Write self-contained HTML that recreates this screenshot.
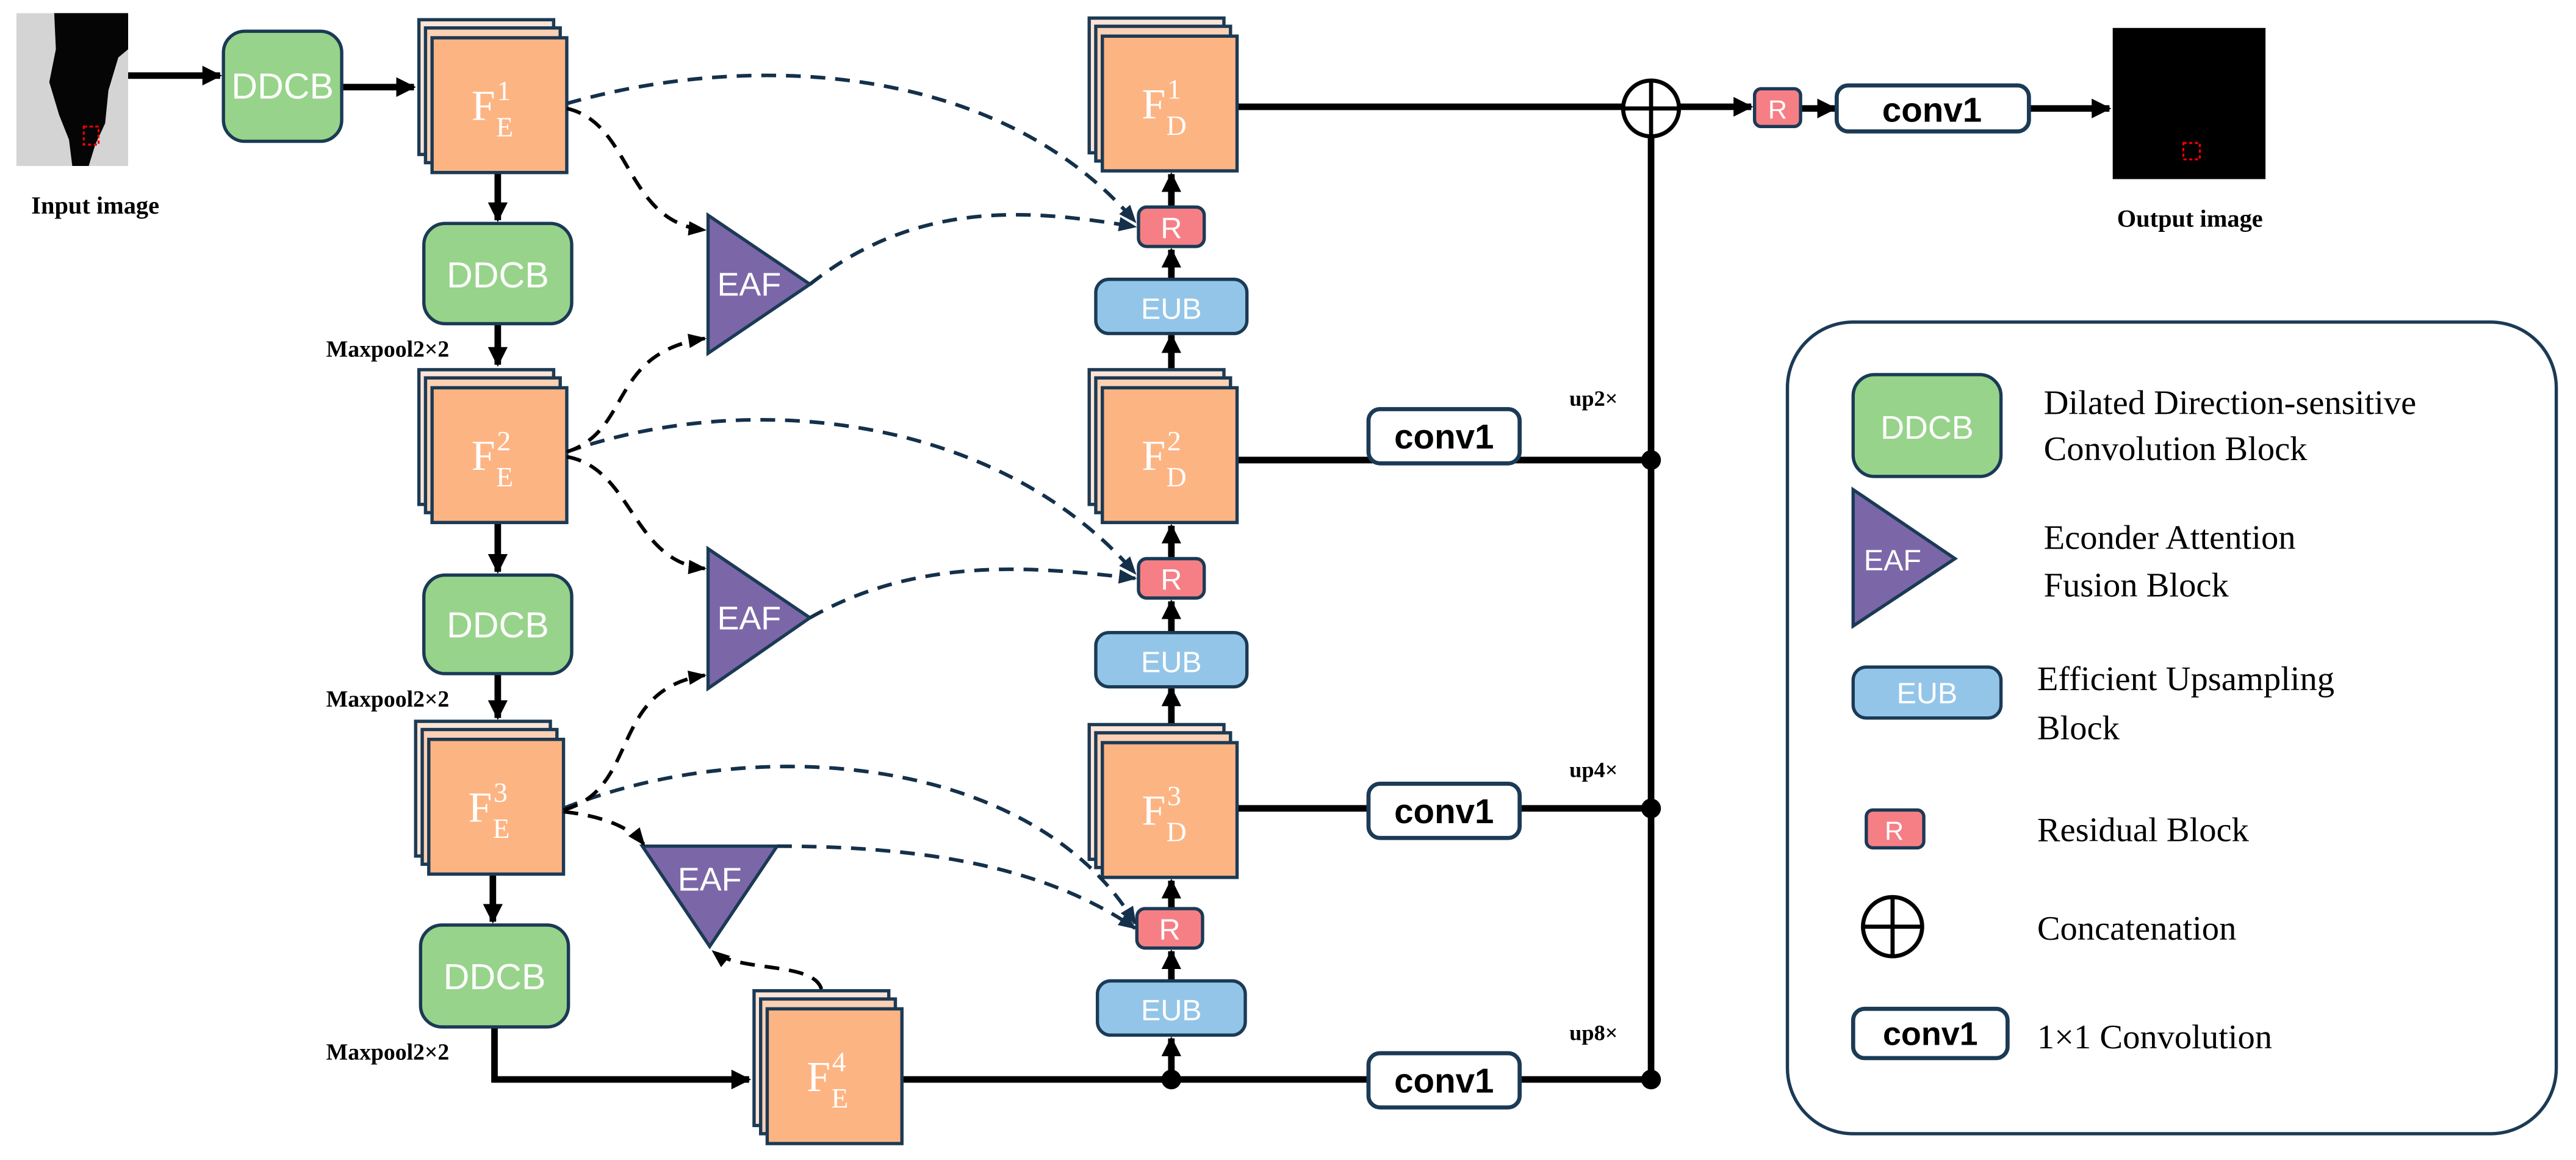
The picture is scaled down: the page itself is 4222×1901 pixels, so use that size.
<!DOCTYPE html>
<html><head><meta charset="utf-8"><style>
html,body{margin:0;padding:0;background:#fff;}
svg{display:block;}
.lbl{font-family:"Liberation Sans",sans-serif;fill:#fff;text-anchor:middle;}
.ser{font-family:"Liberation Serif",serif;}
.fe{font-family:"Liberation Serif",serif;fill:#fff;}
.blk{font-family:"Liberation Sans",sans-serif;font-weight:bold;fill:#000;text-anchor:middle;}
.leg{font-family:"Liberation Serif",serif;font-size:21px;fill:#000;}
</style></head><body>
<svg width="4222" height="1901" viewBox="0 0 1568 706" xmlns="http://www.w3.org/2000/svg">
<defs>
<marker id="a" viewBox="0 0 10 10" refX="9" refY="5" markerWidth="3" markerHeight="3" orient="auto"><path d="M0,0L10,5L0,10z" fill="#000"/></marker>
<marker id="d" viewBox="0 0 10 10" refX="9" refY="5" markerWidth="5" markerHeight="5" orient="auto"><path d="M0,1L10,5L0,9z" fill="#000"/></marker>
<marker id="db" viewBox="0 0 10 10" refX="9" refY="5" markerWidth="5" markerHeight="5" orient="auto"><path d="M0,1L10,5L0,9z" fill="#14304a"/></marker>
<g id="stk">
<rect x="-8" y="-11" width="82" height="82" fill="#fde4d6" stroke="#1b3a55" stroke-width="2"/>
<rect x="-4" y="-6" width="82" height="82" fill="#fcd0b3" stroke="#1b3a55" stroke-width="2"/>
<rect x="0" y="0" width="82" height="82" fill="#fdb483" stroke="#1b3a55" stroke-width="2"/>
</g>
</defs>

<!-- input image -->
<rect x="10" y="8" width="68" height="93" fill="#d4d4d4"/>
<path d="M33,8 L78,8 L78,30 L72,35 L66,55 L64,75 L58,88 L54,101 L44,101 L42,85 L36,70 L30,50 L34,30z" fill="#050505"/>
<rect x="51" y="77" width="9" height="11" fill="none" stroke="#e00" stroke-width="1.2" stroke-dasharray="2,1.5"/>
<text x="58" y="130" class="ser" font-size="15" font-weight="bold" text-anchor="middle">Input image</text>

<!-- main solid lines -->
<g stroke="#000" stroke-width="4" fill="none">
<line x1="78" y1="46" x2="134" y2="46" marker-end="url(#a)"/>
<line x1="208" y1="53" x2="252" y2="53" marker-end="url(#a)"/>
<line x1="303" y1="105" x2="303" y2="134" marker-end="url(#a)"/>
<line x1="303" y1="197" x2="303" y2="222" marker-end="url(#a)"/>
<line x1="303" y1="318" x2="303" y2="348" marker-end="url(#a)"/>
<line x1="303" y1="410" x2="303" y2="437" marker-end="url(#a)"/>
<line x1="300" y1="532" x2="300" y2="561" marker-end="url(#a)"/>
<polyline points="301,625 301,657 456,657" marker-end="url(#a)"/>
<line x1="549" y1="657" x2="1005" y2="657"/>
<line x1="713" y1="657" x2="713" y2="632" marker-end="url(#a)"/>
<line x1="713" y1="597" x2="713" y2="579" marker-end="url(#a)"/>
<line x1="713" y1="553" x2="713" y2="536" marker-end="url(#a)"/>
<line x1="713" y1="441" x2="713" y2="419" marker-end="url(#a)"/>
<line x1="713" y1="385" x2="713" y2="366" marker-end="url(#a)"/>
<line x1="713" y1="340" x2="713" y2="320" marker-end="url(#a)"/>
<line x1="713" y1="225" x2="713" y2="204" marker-end="url(#a)"/>
<line x1="713" y1="170" x2="713" y2="152" marker-end="url(#a)"/>
<line x1="713" y1="126" x2="713" y2="106" marker-end="url(#a)"/>
<line x1="753" y1="280" x2="1005" y2="280"/>
<line x1="753" y1="492" x2="1005" y2="492"/>
<line x1="753" y1="65" x2="988" y2="65"/>
<line x1="1005" y1="657" x2="1005" y2="83"/>
<line x1="1022" y1="65" x2="1066" y2="65" marker-end="url(#a)"/>
<line x1="1096" y1="66" x2="1117" y2="66" marker-end="url(#a)"/>
<line x1="1235" y1="66" x2="1284" y2="66" marker-end="url(#a)"/>
</g>
<g fill="#000">
<circle cx="713" cy="657" r="6"/><circle cx="1005" cy="657" r="6"/><circle cx="1005" cy="492" r="6"/><circle cx="1005" cy="280" r="6"/>
</g>
<circle cx="1005" cy="66" r="17" fill="#fff" stroke="#000" stroke-width="2.5"/>
<line x1="988" y1="66" x2="1022" y2="66" stroke="#000" stroke-width="2.5"/>
<line x1="1005" y1="49" x2="1005" y2="83" stroke="#000" stroke-width="2.5"/>

<!-- DDCB -->
<g stroke="#1b3a55" stroke-width="2" fill="#97d38a">
<rect x="136" y="19" width="72" height="67" rx="13"/>
<rect x="258" y="136" width="90" height="61" rx="13"/>
<rect x="258" y="350" width="90" height="60" rx="13"/>
<rect x="256" y="563" width="90" height="62" rx="13"/>
</g>
<g class="lbl" font-size="22">
<text x="172" y="60">DDCB</text>
<text x="303" y="175">DDCB</text>
<text x="303" y="388">DDCB</text>
<text x="301" y="602">DDCB</text>
</g>
<g class="ser" font-size="14" font-weight="bold" text-anchor="middle">
<text x="236" y="217">Maxpool2×2</text>
<text x="236" y="430">Maxpool2×2</text>
<text x="236" y="645">Maxpool2×2</text>
</g>

<!-- stacks -->
<use href="#stk" x="263" y="23"/>
<use href="#stk" x="263" y="236"/>
<use href="#stk" x="261" y="450"/>
<use href="#stk" x="467" y="614"/>
<use href="#stk" x="671" y="22"/>
<use href="#stk" x="671" y="236"/>
<use href="#stk" x="671" y="452"/>
<g class="fe">
<text x="287" y="73" font-size="26">F<tspan font-size="17" dx="1" dy="-12">1</tspan><tspan font-size="17" dx="-9" dy="22">E</tspan></text>
<text x="287" y="286" font-size="26">F<tspan font-size="17" dx="1" dy="-12">2</tspan><tspan font-size="17" dx="-9" dy="22">E</tspan></text>
<text x="285" y="500" font-size="26">F<tspan font-size="17" dx="1" dy="-12">3</tspan><tspan font-size="17" dx="-9" dy="22">E</tspan></text>
<text x="491" y="664" font-size="26">F<tspan font-size="17" dx="1" dy="-12">4</tspan><tspan font-size="17" dx="-9" dy="22">E</tspan></text>
<text x="695" y="72" font-size="26">F<tspan font-size="17" dx="1" dy="-12">1</tspan><tspan font-size="17" dx="-9" dy="22">D</tspan></text>
<text x="695" y="286" font-size="26">F<tspan font-size="17" dx="1" dy="-12">2</tspan><tspan font-size="17" dx="-9" dy="22">D</tspan></text>
<text x="695" y="502" font-size="26">F<tspan font-size="17" dx="1" dy="-12">3</tspan><tspan font-size="17" dx="-9" dy="22">D</tspan></text>
</g>

<!-- R & EUB -->
<g stroke="#1b3a55" stroke-width="2">
<rect x="693" y="126" width="40" height="24" rx="5" fill="#f67f86"/>
<rect x="693" y="340" width="40" height="24" rx="5" fill="#f67f86"/>
<rect x="692" y="553" width="40" height="24" rx="5" fill="#f67f86"/>
<rect x="667" y="170" width="92" height="33" rx="8" fill="#93c5e8"/>
<rect x="667" y="385" width="92" height="33" rx="8" fill="#93c5e8"/>
<rect x="668" y="597" width="90" height="33" rx="8" fill="#93c5e8"/>
<rect x="1068" y="54" width="28" height="23" rx="4" fill="#f67f86"/>
</g>
<g class="lbl" font-size="18">
<text x="713" y="145">R</text><text x="713" y="359">R</text><text x="712" y="572">R</text>
<text x="713" y="194">EUB</text><text x="713" y="409">EUB</text><text x="713" y="621">EUB</text>
<text x="1082" y="72" font-size="16">R</text>
</g>

<!-- conv1 -->
<g stroke="#1b3a55" stroke-width="2.5" fill="#fff">
<rect x="833" y="249" width="92" height="33" rx="7"/>
<rect x="833" y="477" width="92" height="33" rx="7"/>
<rect x="833" y="641" width="92" height="33" rx="7"/>
<rect x="1118" y="52" width="117" height="28" rx="7"/>
</g>
<g class="blk" font-size="21">
<text x="879" y="273">conv1</text><text x="879" y="501">conv1</text><text x="879" y="665">conv1</text>
<text x="1176" y="74">conv1</text>
</g>
<g class="ser" font-size="13.5" font-weight="bold" text-anchor="middle">
<text x="970" y="247">up2×</text><text x="970" y="473">up4×</text><text x="970" y="633">up8×</text>
</g>

<!-- output -->
<rect x="1286" y="17" width="93" height="92" fill="#000"/>
<rect x="1329" y="87" width="10" height="10" fill="none" stroke="#e00" stroke-width="1.2" stroke-dasharray="2,1.5"/>
<text x="1333" y="138" class="ser" font-size="15" font-weight="bold" text-anchor="middle">Output image</text>

<!-- EAF -->
<g fill="#7b67a8" stroke="#1b3a55" stroke-width="2">
<polygon points="431,131 431,215 493,173"/>
<polygon points="431,334 431,419 493,376"/>
<polygon points="391,515 473,515 432,576"/>
</g>
<g class="lbl" font-size="20">
<text x="456" y="180">EAF</text><text x="456" y="383">EAF</text><text x="432" y="542">EAF</text>
</g>

<!-- dashed curves -->
<g fill="none" stroke-width="2.2" stroke-dasharray="9,6">
<g stroke="#14304a" marker-end="url(#db)">
<path d="M345,63 C460,30 610,40 691,135"/>
<path d="M493,173 C560,120 630,128 691,138"/>
<path d="M345,275 C460,235 610,255 691,349"/>
<path d="M493,376 C560,338 630,345 691,352"/>
<path d="M343,492 C460,445 630,460 691,562"/>
<path d="M473,515 C570,515 640,530 691,565"/>
</g>
<g stroke="#000" marker-end="url(#d)">
<path d="M345,66 C385,75 380,135 429,140"/>
<path d="M345,275 C385,262 370,215 429,206"/>
<path d="M345,278 C385,285 385,342 429,346"/>
<path d="M343,493 C390,480 370,420 429,411"/>
<path d="M343,494 C370,497 385,505 392,514"/>
<path d="M500,602 C495,585 450,592 434,579"/>
</g>
</g>

<!-- legend -->
<rect x="1088" y="196" width="468" height="494" rx="40" fill="none" stroke="#1b3a55" stroke-width="2"/>
<rect x="1128" y="228" width="90" height="62" rx="13" fill="#97d38a" stroke="#1b3a55" stroke-width="2"/>
<text x="1173" y="267" class="lbl" font-size="20">DDCB</text>
<text x="1244" y="252" class="leg">Dilated Direction-sensitive</text>
<text x="1244" y="280" class="leg">Convolution Block</text>
<polygon points="1128,298 1128,381 1190,340" fill="#7b67a8" stroke="#1b3a55" stroke-width="2"/>
<text x="1152" y="347" class="lbl" font-size="18">EAF</text>
<text x="1244" y="334" class="leg">Econder Attention</text>
<text x="1244" y="363" class="leg">Fusion Block</text>
<rect x="1128" y="406" width="90" height="31" rx="8" fill="#93c5e8" stroke="#1b3a55" stroke-width="2"/>
<text x="1173" y="428" class="lbl" font-size="18">EUB</text>
<text x="1240" y="420" class="leg">Efficient Upsampling</text>
<text x="1240" y="450" class="leg">Block</text>
<rect x="1136" y="493" width="35" height="23" rx="4" fill="#f67f86" stroke="#1b3a55" stroke-width="2"/>
<text x="1153" y="511" class="lbl" font-size="16">R</text>
<text x="1240" y="512" class="leg">Residual Block</text>
<circle cx="1152" cy="564" r="18" fill="#fff" stroke="#000" stroke-width="2.5"/>
<line x1="1134" y1="564" x2="1170" y2="564" stroke="#000" stroke-width="2.5"/>
<line x1="1152" y1="546" x2="1152" y2="582" stroke="#000" stroke-width="2.5"/>
<text x="1240" y="572" class="leg">Concatenation</text>
<rect x="1128" y="614" width="94" height="30" rx="7" fill="#fff" stroke="#1b3a55" stroke-width="2.5"/>
<text x="1175" y="636" class="blk" font-size="20">conv1</text>
<text x="1240" y="638" class="leg">1×1 Convolution</text>
</svg>
</body></html>
